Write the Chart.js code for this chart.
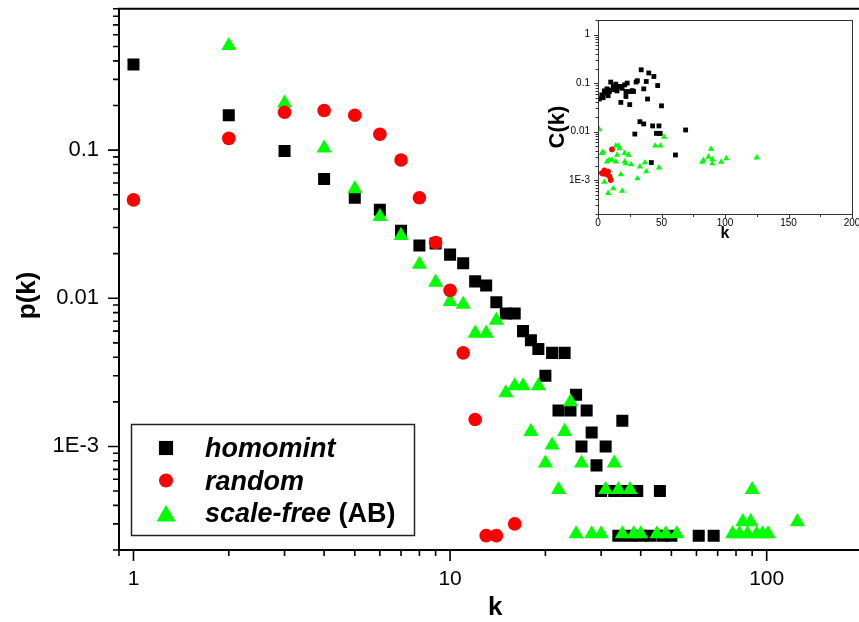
<!DOCTYPE html>
<html>
<head>
<meta charset="utf-8">
<script src="https://cdn.jsdelivr.net/npm/chart.js@4.4.1/dist/chart.umd.min.js"></script>
<style>
  html, body { margin: 0; padding: 0; background: #fff; overflow: hidden; }
  #wrap { position: relative; width: 859px; height: 622px; overflow: hidden; background: #fff; }
  #main { position: absolute; left: 0; top: 0; }
  #inset { position: absolute; left: 540px; top: 0; }
</style>
</head>
<body>
<div id="wrap">
  <canvas id="main" width="880" height="622"></canvas>
  <canvas id="inset" width="319" height="250"></canvas>
</div>
<script>
// degree distribution p(k)
const homomintK = [1, 2, 3, 4, 5, 6, 7, 8, 9, 10, 11, 12, 13, 14, 15, 16, 17, 18, 19, 20,
  21, 22, 23, 24, 25, 26, 27, 28, 29, 30, 31, 33, 34, 35, 36, 37, 39, 40, 43, 46, 47, 50, 61, 68];
const homomintP = [0.378, 0.172, 0.0985, 0.0638, 0.0477, 0.0395, 0.0286, 0.0227, 0.0234, 0.0197,
  0.0172, 0.013, 0.0122, 0.0094, 0.0079, 0.0079, 0.006, 0.0052, 0.00455, 0.003,
  0.00428, 0.00175, 0.00428, 0.00175, 0.00223, 0.001, 0.00175, 0.00124, 0.000745, 0.0005,
  0.001, 0.0005, 0.00025, 0.00149, 0.0005, 0.00025, 0.0005, 0.00025, 0.00025, 0.0005,
  0.00025, 0.00025, 0.00025, 0.00025];

const randomK = [1, 2, 3, 4, 5, 6, 7, 8, 9, 10, 11, 12, 13, 14, 16];
const randomP = [0.0461, 0.12, 0.18, 0.185, 0.172, 0.128, 0.0857, 0.0477, 0.0238, 0.0113,
  0.00428, 0.00152, 0.00025, 0.00025, 0.0003];

const scaleFreeK = [2, 3, 4, 5, 6, 7, 8, 9, 10, 11, 12, 13, 14, 15, 16, 17, 18, 19, 20, 21,
  22, 23, 24, 25, 26, 28, 30, 31, 33, 34, 35, 37, 38, 40, 45, 48, 52, 78, 82, 84, 87, 89, 90,
  93, 97, 101, 125];
const scaleFreeP = [0.507, 0.207, 0.103, 0.0547, 0.0355, 0.0265, 0.0169, 0.0128, 0.0095, 0.0091,
  0.0058, 0.0058, 0.0071, 0.0023, 0.00256, 0.00256, 0.00126, 0.00256, 0.00077, 0.00102,
  0.00051, 0.00126, 0.002, 0.000257, 0.00077, 0.000257, 0.000257, 0.00051, 0.00077, 0.00051,
  0.000257, 0.00051, 0.000257, 0.000257, 0.000257, 0.000257, 0.000257, 0.000257, 0.000257, 0.00031,
  0.000257, 0.00031, 0.00051, 0.000257, 0.000257, 0.000257, 0.00031];

// clustering C(k), inset
const homomintInsetK = [1, 4, 3, 5, 7, 8, 9, 10, 12, 14, 13, 15, 16, 18, 21, 23, 18, 22, 22, 25,
  25, 27, 28, 30, 31, 34, 36, 38, 40, 39, 44, 47, 50, 33, 36, 43, 48, 46, 48, 49,
  29, 69, 61, 42, 6, 9, 14, 19];
const homomintInsetC = [0.047, 0.05, 0.057, 0.069, 0.076, 0.055, 0.067, 0.105, 0.085, 0.095,
  0.073, 0.069, 0.085, 0.085, 0.092, 0.1, 0.04, 0.053, 0.067, 0.036,
  0.067, 0.07, 0.067, 0.105, 0.112, 0.188, 0.076, 0.108, 0.162, 0.047,
  0.137, 0.089, 0.034, 0.016, 0.0144, 0.0131, 0.0131, 0.0092, 0.0092, 0.0092,
  0.0089, 0.0108, 0.0033, 0.0023, 0.062, 0.072, 0.078, 0.078];

const randomInsetK = [3, 4, 5, 6, 7, 8, 9, 10, 11];
const randomInsetC = [0.0014, 0.00135, 0.0016, 0.0015, 0.0013, 0.0015, 0.0012, 0.001, 0.0043];

const scaleFreeInsetK = [1, 3, 4, 7, 9, 11, 14, 16, 17, 15, 21, 24, 21, 22, 26, 14, 18, 5, 10, 8,
  12, 19, 31, 33, 37, 38, 45, 49, 52, 48, 82, 83, 87, 89, 90, 90, 97, 101, 125];
const scaleFreeInsetC = [0.0111, 0.0036, 0.0038, 0.0024, 0.0026, 0.0026, 0.0051, 0.0051, 0.0045, 0.0033,
  0.0036, 0.0033, 0.0024, 0.0022, 0.0021, 0.0024, 0.0013, 0.00092, 0.00117, 0.00054,
  0.00067, 0.0006, 0.00108, 0.0019, 0.0023, 0.0015, 0.0051, 0.0051, 0.0078, 0.0018,
  0.00238, 0.00258, 0.003, 0.0044, 0.00267, 0.0022, 0.00238, 0.0028, 0.0029];

// axis ticks
const mainTicksX = [1, 10, 100];
const mainTicksY = [0.001, 0.01, 0.1];
const mainTickLabelsY = ['1E-3', '0.01', '0.1'];
const insetTicksY = [0.001, 0.01, 0.1, 1];
const insetTickLabelsY = ['1E-3', '0.01', '0.1', '1'];

const legendNames = ['homomint', 'random', 'scale-free'];
const legendNotes = ['', '', ' (AB)'];

const FONT = '"Liberation Sans", Arial, sans-serif';
const BLACK = '#000000', RED = '#ff0000', GREEN = '#00ff00';

function series(label, ks, vs, style, color, radius, order) {
  return {
    label: label,
    order: order,
    data: ks.map((k, i) => ({ x: k, y: vs[i] })),
    pointStyle: style,
    pointRadius: radius,
    pointHoverRadius: radius,
    pointBorderWidth: 0,
    backgroundColor: color,
    borderColor: color,
    showLine: false
  };
}

// fixed axis size, no extra room reserved for edge labels
function fixX(height) {
  return (s) => { s.height = height; s.paddingLeft = 0; s.paddingRight = 0; };
}
function fixY(width) {
  return (s) => { s.width = width; s.paddingTop = 0; s.paddingBottom = 0; };
}

// calls cb(pixel, isMajor) for every 1..9 x 10^n inside the scale range
function logTicks(scale, cb) {
  const lo = Math.floor(Math.log10(scale.min));
  const hi = Math.ceil(Math.log10(scale.max));
  for (let d = lo; d <= hi; d++) {
    for (let m = 1; m <= 9; m++) {
      const v = m * Math.pow(10, d);
      if (v < scale.min * 0.999 || v > scale.max * 1.001) continue;
      cb(scale.getPixelForValue(v), m === 1);
    }
  }
}

function marker(ctx, style, radius, color, x, y) {
  ctx.fillStyle = color;
  Chart.helpers.drawPoint(ctx, { pointStyle: style, radius: radius, rotation: 0, borderWidth: 0 }, x, y);
}

const mainDecor = {
  id: 'mainDecor',
  afterDraw(chart) {
    const { ctx, chartArea: a, scales: { x, y } } = chart;
    ctx.save();
    ctx.strokeStyle = '#000';

    // top frame line
    ctx.lineWidth = 2;
    ctx.beginPath();
    ctx.moveTo(a.left - 1, a.top);
    ctx.lineTo(a.right + 5, a.top);
    ctx.stroke();

    // outward tick marks
    ctx.lineWidth = 1.6;
    ctx.beginPath();
    logTicks(y, (py, major) => { ctx.moveTo(a.left - (major ? 11 : 6), py); ctx.lineTo(a.left, py); });
    logTicks(x, (px, major) => { ctx.moveTo(px, a.bottom); ctx.lineTo(px, a.bottom + (major ? 11 : 6)); });
    ctx.stroke();

    // axis titles
    ctx.fillStyle = '#000';
    ctx.font = 'bold 26px ' + FONT;
    ctx.textAlign = 'center';
    ctx.textBaseline = 'middle';
    ctx.fillText('k', (a.left + a.right) / 2, a.bottom + 58);
    ctx.save();
    ctx.translate(28, (a.top + a.bottom) / 2 + 16);
    ctx.rotate(-Math.PI / 2);
    ctx.fillText('p(k)', 0, 0);
    ctx.restore();

    // legend box
    ctx.lineWidth = 1.5;
    ctx.strokeStyle = '#222';
    ctx.strokeRect(131.5, 424.5, 283, 111);
    const sizes = [10, 7, 11];
    chart.data.datasets.forEach((ds, i) => {
      const cy = 448 + i * 32.5;
      marker(ctx, ds.pointStyle, sizes[i], ds.backgroundColor, 166, cy + (ds.pointStyle === 'triangle' ? 3 : 0));
      ctx.fillStyle = '#000';
      ctx.textAlign = 'left';
      ctx.textBaseline = 'alphabetic';
      ctx.font = 'italic bold 27px ' + FONT;
      ctx.fillText(legendNames[i], 205, cy + 9);
      if (legendNotes[i]) {
        const w = ctx.measureText(legendNames[i]).width;
        ctx.font = 'bold 27px ' + FONT;
        ctx.fillText(legendNotes[i], 205 + w, cy + 9);
      }
    });
    ctx.restore();
  }
};

new Chart(document.getElementById('main'), {
  type: 'scatter',
  data: {
    datasets: [
      series('homomint', homomintK, homomintP, 'rect', BLACK, 8.5, 3),
      series('random', randomK, randomP, 'circle', RED, 6.8, 1),
      series('scale-free (AB)', scaleFreeK, scaleFreeP, 'triangle', GREEN, 8.7, 2)
    ]
  },
  options: {
    responsive: false,
    animation: false,
    events: [],
    layout: { padding: { top: 7, right: 0, left: 0, bottom: 0 } },
    plugins: { legend: { display: false }, tooltip: { enabled: false } },
    scales: {
      x: {
        type: 'logarithmic',
        bounds: 'data',
        min: 0.9,
        max: 214,
        afterFit: fixX(72),
        afterBuildTicks: (s) => { s.ticks = mainTicksX.map(v => ({ value: v })); },
        grid: { display: false, drawTicks: false },
        border: { display: true, color: '#000', width: 2 },
        ticks: {
          autoSkip: false, maxRotation: 0, padding: 17,
          color: '#000', font: { family: FONT, size: 21 },
          callback: (v) => String(v)
        }
      },
      y: {
        type: 'logarithmic',
        bounds: 'data',
        min: 0.0002,
        max: 0.9,
        afterFit: fixY(119),
        afterBuildTicks: (s) => { s.ticks = mainTicksY.map(v => ({ value: v })); },
        grid: { display: false, drawTicks: false },
        border: { display: true, color: '#000', width: 2 },
        ticks: {
          autoSkip: false, padding: 20,
          color: '#000', font: { family: FONT, size: 22 },
          callback: (v) => mainTickLabelsY[mainTicksY.indexOf(v)]
        }
      }
    }
  },
  plugins: [mainDecor]
});

const insetDecor = {
  id: 'insetDecor',
  afterDraw(chart) {
    const { ctx, chartArea: a, scales: { x, y } } = chart;
    ctx.save();
    ctx.strokeStyle = '#333';
    ctx.lineWidth = 1;
    ctx.strokeRect(Math.round(a.left) + 0.5, Math.round(a.top) + 0.5,
      Math.round(a.right - a.left), Math.round(a.bottom - a.top));
    ctx.beginPath();
    logTicks(y, (py, major) => {
      const yy = Math.round(py) + 0.5;
      ctx.moveTo(a.left - (major ? 4 : 2.5), yy); ctx.lineTo(a.left, yy);
    });
    for (let v = 0; v <= 200; v += 25) {
      const px = Math.round(x.getPixelForValue(v)) + 0.5;
      ctx.moveTo(px, a.bottom); ctx.lineTo(px, a.bottom + (v % 50 === 0 ? 4 : 3));
    }
    ctx.stroke();

    ctx.fillStyle = '#000';
    ctx.textAlign = 'center';
    ctx.textBaseline = 'middle';
    ctx.font = 'bold 16px ' + FONT;
    ctx.fillText('k', (a.left + a.right) / 2, a.bottom + 20);
    ctx.save();
    ctx.translate(18, (a.top + a.bottom) / 2 + 10);
    ctx.rotate(-Math.PI / 2);
    ctx.font = 'bold 22px ' + FONT;
    ctx.fillText('C(k)', 0, 0);
    ctx.restore();
    ctx.restore();
  }
};

new Chart(document.getElementById('inset'), {
  type: 'scatter',
  data: {
    datasets: [
      series('homomint', homomintInsetK, homomintInsetC, 'rect', BLACK, 3.4, 3),
      series('random', randomInsetK, randomInsetC, 'circle', RED, 2.8, 1),
      series('scale-free (AB)', scaleFreeInsetK, scaleFreeInsetC, 'triangle', GREEN, 3.6, 2)
    ]
  },
  options: {
    responsive: false,
    animation: false,
    events: [],
    layout: { padding: { top: 20, right: 7, left: 0, bottom: 0 } },
    plugins: { legend: { display: false }, tooltip: { enabled: false } },
    scales: {
      x: {
        type: 'linear',
        min: 0,
        max: 200,
        afterFit: fixX(36),
        grid: { display: false, drawTicks: false },
        border: { display: false },
        ticks: {
          stepSize: 50, autoSkip: false, maxRotation: 0, padding: 3,
          color: '#000', font: { family: FONT, size: 10 }
        }
      },
      y: {
        type: 'logarithmic',
        bounds: 'data',
        min: 0.0002,
        max: 2,
        afterFit: fixY(58),
        afterBuildTicks: (s) => { s.ticks = insetTicksY.map(v => ({ value: v })); },
        grid: { display: false, drawTicks: false },
        border: { display: false },
        ticks: {
          autoSkip: false, padding: 8,
          color: '#000', font: { family: FONT, size: 10 },
          callback: (v) => insetTickLabelsY[insetTicksY.indexOf(v)]
        }
      }
    }
  },
  plugins: [insetDecor]
});
</script>
</body>
</html>
